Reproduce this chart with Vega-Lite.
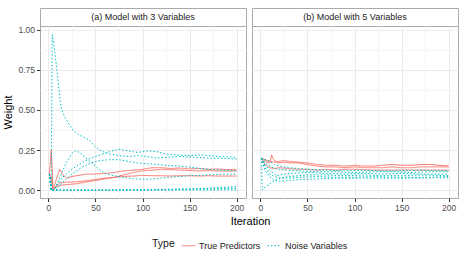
{
  "$schema": "https://vega.github.io/schema/vega-lite/v6.json",
  "background": "white",
  "padding": {"left": 2, "top": 7, "right": 5, "bottom": 5},
  "bounds": "flush",
  "columns": 2,
  "spacing": {"row": 0, "column": 6},
  "config": {
    "font": "Liberation Sans",
    "view": {"stroke": "#ABABAB", "strokeWidth": 1},
    "axis": {
      "domain": false, "tickColor": "#333333", "tickSize": 3.5, "tickWidth": 1,
      "labelColor": "#4D4D4D", "labelFontSize": 8.5, "labelFont": "Liberation Sans",
      "titleFont": "Liberation Sans", "titleFontSize": 11, "titleFontWeight": "normal", "titleColor": "#000000",
      "labelPadding": 2
    },
    "legend": {
      "orient": "none", "legendX": 112, "legendY": 230, "direction": "horizontal", "titleOrient": "left",
      "symbolType": "stroke", "symbolSize": 196, "symbolStrokeWidth": 1,
      "labelFontSize": 9, "titleFontSize": 10.5, "titleFontWeight": "normal",
      "labelFont": "Liberation Sans", "titleFont": "Liberation Sans",
      "labelColor": "#1A1A1A", "titleColor": "#1A1A1A", "columnPadding": 4, "labelOffset": 3, "titlePadding": 6
    }
  },
  "datasets": {
    "pa": [
      {"s":"r1","t":"True Predictors","x":1,"w":0.1},{"s":"r1","t":"True Predictors","x":3,"w":0.25},{"s":"r1","t":"True Predictors","x":5,"w":0.0},{"s":"r1","t":"True Predictors","x":8,"w":0.06},{"s":"r1","t":"True Predictors","x":12,"w":0.13},{"s":"r1","t":"True Predictors","x":16,"w":0.09},{"s":"r1","t":"True Predictors","x":20,"w":0.075},{"s":"r1","t":"True Predictors","x":25,"w":0.085},{"s":"r1","t":"True Predictors","x":30,"w":0.09},{"s":"r1","t":"True Predictors","x":40,"w":0.1},{"s":"r1","t":"True Predictors","x":50,"w":0.1},{"s":"r1","t":"True Predictors","x":60,"w":0.105},{"s":"r1","t":"True Predictors","x":70,"w":0.11},{"s":"r1","t":"True Predictors","x":80,"w":0.12},{"s":"r1","t":"True Predictors","x":90,"w":0.125},{"s":"r1","t":"True Predictors","x":100,"w":0.13},{"s":"r1","t":"True Predictors","x":110,"w":0.14},{"s":"r1","t":"True Predictors","x":120,"w":0.14},{"s":"r1","t":"True Predictors","x":130,"w":0.135},{"s":"r1","t":"True Predictors","x":140,"w":0.138},{"s":"r1","t":"True Predictors","x":150,"w":0.132},{"s":"r1","t":"True Predictors","x":160,"w":0.135},{"s":"r1","t":"True Predictors","x":170,"w":0.13},{"s":"r1","t":"True Predictors","x":180,"w":0.132},{"s":"r1","t":"True Predictors","x":190,"w":0.128},{"s":"r1","t":"True Predictors","x":200,"w":0.13},
      {"s":"r2","t":"True Predictors","x":1,"w":0.1},{"s":"r2","t":"True Predictors","x":3,"w":0.06},{"s":"r2","t":"True Predictors","x":5,"w":0.0},{"s":"r2","t":"True Predictors","x":8,"w":0.02},{"s":"r2","t":"True Predictors","x":12,"w":0.03},{"s":"r2","t":"True Predictors","x":20,"w":0.035},{"s":"r2","t":"True Predictors","x":30,"w":0.04},{"s":"r2","t":"True Predictors","x":40,"w":0.05},{"s":"r2","t":"True Predictors","x":50,"w":0.06},{"s":"r2","t":"True Predictors","x":60,"w":0.07},{"s":"r2","t":"True Predictors","x":70,"w":0.08},{"s":"r2","t":"True Predictors","x":80,"w":0.095},{"s":"r2","t":"True Predictors","x":90,"w":0.11},{"s":"r2","t":"True Predictors","x":100,"w":0.12},{"s":"r2","t":"True Predictors","x":110,"w":0.125},{"s":"r2","t":"True Predictors","x":120,"w":0.13},{"s":"r2","t":"True Predictors","x":130,"w":0.128},{"s":"r2","t":"True Predictors","x":140,"w":0.125},{"s":"r2","t":"True Predictors","x":150,"w":0.122},{"s":"r2","t":"True Predictors","x":160,"w":0.12},{"s":"r2","t":"True Predictors","x":170,"w":0.122},{"s":"r2","t":"True Predictors","x":180,"w":0.12},{"s":"r2","t":"True Predictors","x":190,"w":0.118},{"s":"r2","t":"True Predictors","x":200,"w":0.12},
      {"s":"r3","t":"True Predictors","x":1,"w":0.1},{"s":"r3","t":"True Predictors","x":3,"w":0.08},{"s":"r3","t":"True Predictors","x":5,"w":0.0},{"s":"r3","t":"True Predictors","x":8,"w":0.025},{"s":"r3","t":"True Predictors","x":12,"w":0.045},{"s":"r3","t":"True Predictors","x":20,"w":0.05},{"s":"r3","t":"True Predictors","x":30,"w":0.052},{"s":"r3","t":"True Predictors","x":40,"w":0.058},{"s":"r3","t":"True Predictors","x":50,"w":0.066},{"s":"r3","t":"True Predictors","x":60,"w":0.075},{"s":"r3","t":"True Predictors","x":70,"w":0.08},{"s":"r3","t":"True Predictors","x":80,"w":0.085},{"s":"r3","t":"True Predictors","x":90,"w":0.088},{"s":"r3","t":"True Predictors","x":100,"w":0.092},{"s":"r3","t":"True Predictors","x":110,"w":0.09},{"s":"r3","t":"True Predictors","x":120,"w":0.09},{"s":"r3","t":"True Predictors","x":130,"w":0.088},{"s":"r3","t":"True Predictors","x":140,"w":0.09},{"s":"r3","t":"True Predictors","x":150,"w":0.09},{"s":"r3","t":"True Predictors","x":160,"w":0.088},{"s":"r3","t":"True Predictors","x":170,"w":0.09},{"s":"r3","t":"True Predictors","x":180,"w":0.088},{"s":"r3","t":"True Predictors","x":190,"w":0.088},{"s":"r3","t":"True Predictors","x":200,"w":0.088},
      {"s":"n1","t":"Noise Variables","x":1,"w":0.1},{"s":"n1","t":"Noise Variables","x":3,"w":0.0},{"s":"n1","t":"Noise Variables","x":4,"w":0.97},{"s":"n1","t":"Noise Variables","x":6,"w":0.9},{"s":"n1","t":"Noise Variables","x":8,"w":0.8},{"s":"n1","t":"Noise Variables","x":10,"w":0.7},{"s":"n1","t":"Noise Variables","x":12,"w":0.58},{"s":"n1","t":"Noise Variables","x":14,"w":0.5},{"s":"n1","t":"Noise Variables","x":18,"w":0.45},{"s":"n1","t":"Noise Variables","x":22,"w":0.41},{"s":"n1","t":"Noise Variables","x":27,"w":0.37},{"s":"n1","t":"Noise Variables","x":32,"w":0.345},{"s":"n1","t":"Noise Variables","x":38,"w":0.33},{"s":"n1","t":"Noise Variables","x":44,"w":0.31},{"s":"n1","t":"Noise Variables","x":48,"w":0.28},{"s":"n1","t":"Noise Variables","x":52,"w":0.26},{"s":"n1","t":"Noise Variables","x":58,"w":0.24},{"s":"n1","t":"Noise Variables","x":65,"w":0.225},{"s":"n1","t":"Noise Variables","x":75,"w":0.215},{"s":"n1","t":"Noise Variables","x":85,"w":0.21},{"s":"n1","t":"Noise Variables","x":95,"w":0.215},{"s":"n1","t":"Noise Variables","x":105,"w":0.21},{"s":"n1","t":"Noise Variables","x":115,"w":0.2},{"s":"n1","t":"Noise Variables","x":125,"w":0.205},{"s":"n1","t":"Noise Variables","x":140,"w":0.21},{"s":"n1","t":"Noise Variables","x":155,"w":0.205},{"s":"n1","t":"Noise Variables","x":170,"w":0.2},{"s":"n1","t":"Noise Variables","x":185,"w":0.198},{"s":"n1","t":"Noise Variables","x":200,"w":0.195},
      {"s":"n2","t":"Noise Variables","x":1,"w":0.1},{"s":"n2","t":"Noise Variables","x":3,"w":0.0},{"s":"n2","t":"Noise Variables","x":6,"w":0.0},{"s":"n2","t":"Noise Variables","x":10,"w":0.05},{"s":"n2","t":"Noise Variables","x":15,"w":0.12},{"s":"n2","t":"Noise Variables","x":20,"w":0.18},{"s":"n2","t":"Noise Variables","x":25,"w":0.23},{"s":"n2","t":"Noise Variables","x":29,"w":0.245},{"s":"n2","t":"Noise Variables","x":33,"w":0.235},{"s":"n2","t":"Noise Variables","x":38,"w":0.21},{"s":"n2","t":"Noise Variables","x":44,"w":0.18},{"s":"n2","t":"Noise Variables","x":50,"w":0.15},{"s":"n2","t":"Noise Variables","x":56,"w":0.12},{"s":"n2","t":"Noise Variables","x":62,"w":0.1},{"s":"n2","t":"Noise Variables","x":70,"w":0.09},{"s":"n2","t":"Noise Variables","x":80,"w":0.08},{"s":"n2","t":"Noise Variables","x":90,"w":0.07},{"s":"n2","t":"Noise Variables","x":100,"w":0.068},{"s":"n2","t":"Noise Variables","x":110,"w":0.07},{"s":"n2","t":"Noise Variables","x":120,"w":0.075},{"s":"n2","t":"Noise Variables","x":130,"w":0.08},{"s":"n2","t":"Noise Variables","x":150,"w":0.09},{"s":"n2","t":"Noise Variables","x":170,"w":0.095},{"s":"n2","t":"Noise Variables","x":185,"w":0.1},{"s":"n2","t":"Noise Variables","x":200,"w":0.1},
      {"s":"n3","t":"Noise Variables","x":1,"w":0.1},{"s":"n3","t":"Noise Variables","x":3,"w":0.0},{"s":"n3","t":"Noise Variables","x":6,"w":0.0},{"s":"n3","t":"Noise Variables","x":15,"w":0.08},{"s":"n3","t":"Noise Variables","x":25,"w":0.13},{"s":"n3","t":"Noise Variables","x":35,"w":0.17},{"s":"n3","t":"Noise Variables","x":45,"w":0.2},{"s":"n3","t":"Noise Variables","x":55,"w":0.22},{"s":"n3","t":"Noise Variables","x":65,"w":0.24},{"s":"n3","t":"Noise Variables","x":75,"w":0.255},{"s":"n3","t":"Noise Variables","x":85,"w":0.245},{"s":"n3","t":"Noise Variables","x":95,"w":0.235},{"s":"n3","t":"Noise Variables","x":105,"w":0.245},{"s":"n3","t":"Noise Variables","x":115,"w":0.24},{"s":"n3","t":"Noise Variables","x":125,"w":0.225},{"s":"n3","t":"Noise Variables","x":135,"w":0.22},{"s":"n3","t":"Noise Variables","x":150,"w":0.215},{"s":"n3","t":"Noise Variables","x":165,"w":0.22},{"s":"n3","t":"Noise Variables","x":180,"w":0.21},{"s":"n3","t":"Noise Variables","x":200,"w":0.205},
      {"s":"n4","t":"Noise Variables","x":1,"w":0.1},{"s":"n4","t":"Noise Variables","x":3,"w":0.0},{"s":"n4","t":"Noise Variables","x":8,"w":0.0},{"s":"n4","t":"Noise Variables","x":15,"w":0.05},{"s":"n4","t":"Noise Variables","x":25,"w":0.1},{"s":"n4","t":"Noise Variables","x":35,"w":0.14},{"s":"n4","t":"Noise Variables","x":45,"w":0.17},{"s":"n4","t":"Noise Variables","x":55,"w":0.185},{"s":"n4","t":"Noise Variables","x":65,"w":0.19},{"s":"n4","t":"Noise Variables","x":75,"w":0.19},{"s":"n4","t":"Noise Variables","x":85,"w":0.18},{"s":"n4","t":"Noise Variables","x":95,"w":0.17},{"s":"n4","t":"Noise Variables","x":105,"w":0.165},{"s":"n4","t":"Noise Variables","x":115,"w":0.16},{"s":"n4","t":"Noise Variables","x":125,"w":0.155},{"s":"n4","t":"Noise Variables","x":140,"w":0.15},{"s":"n4","t":"Noise Variables","x":155,"w":0.14},{"s":"n4","t":"Noise Variables","x":170,"w":0.13},{"s":"n4","t":"Noise Variables","x":185,"w":0.125},{"s":"n4","t":"Noise Variables","x":200,"w":0.12},
      {"s":"n5","t":"Noise Variables","x":1,"w":0.1},{"s":"n5","t":"Noise Variables","x":3,"w":0.0},{"s":"n5","t":"Noise Variables","x":50,"w":0.0},{"s":"n5","t":"Noise Variables","x":100,"w":0.003},{"s":"n5","t":"Noise Variables","x":130,"w":0.006},{"s":"n5","t":"Noise Variables","x":160,"w":0.01},{"s":"n5","t":"Noise Variables","x":180,"w":0.015},{"s":"n5","t":"Noise Variables","x":200,"w":0.022},
      {"s":"n6","t":"Noise Variables","x":1,"w":0.1},{"s":"n6","t":"Noise Variables","x":3,"w":0.0},{"s":"n6","t":"Noise Variables","x":100,"w":0.0},{"s":"n6","t":"Noise Variables","x":150,"w":0.005},{"s":"n6","t":"Noise Variables","x":200,"w":0.012},
      {"s":"n7","t":"Noise Variables","x":1,"w":0.1},{"s":"n7","t":"Noise Variables","x":3,"w":0.0},{"s":"n7","t":"Noise Variables","x":200,"w":0.002}
    ],
    "pb": [
      {"s":"r1","t":"True Predictors","x":1,"w":0.2},{"s":"r1","t":"True Predictors","x":5,"w":0.19},{"s":"r1","t":"True Predictors","x":10,"w":0.18},{"s":"r1","t":"True Predictors","x":15,"w":0.175},{"s":"r1","t":"True Predictors","x":20,"w":0.18},{"s":"r1","t":"True Predictors","x":25,"w":0.185},{"s":"r1","t":"True Predictors","x":30,"w":0.18},{"s":"r1","t":"True Predictors","x":40,"w":0.175},{"s":"r1","t":"True Predictors","x":50,"w":0.17},{"s":"r1","t":"True Predictors","x":60,"w":0.16},{"s":"r1","t":"True Predictors","x":70,"w":0.155},{"s":"r1","t":"True Predictors","x":80,"w":0.155},{"s":"r1","t":"True Predictors","x":90,"w":0.15},{"s":"r1","t":"True Predictors","x":100,"w":0.155},{"s":"r1","t":"True Predictors","x":110,"w":0.15},{"s":"r1","t":"True Predictors","x":120,"w":0.15},{"s":"r1","t":"True Predictors","x":130,"w":0.155},{"s":"r1","t":"True Predictors","x":140,"w":0.16},{"s":"r1","t":"True Predictors","x":150,"w":0.155},{"s":"r1","t":"True Predictors","x":160,"w":0.155},{"s":"r1","t":"True Predictors","x":170,"w":0.16},{"s":"r1","t":"True Predictors","x":180,"w":0.16},{"s":"r1","t":"True Predictors","x":190,"w":0.155},{"s":"r1","t":"True Predictors","x":200,"w":0.15},
      {"s":"r2","t":"True Predictors","x":1,"w":0.2},{"s":"r2","t":"True Predictors","x":5,"w":0.18},{"s":"r2","t":"True Predictors","x":10,"w":0.17},{"s":"r2","t":"True Predictors","x":12,"w":0.22},{"s":"r2","t":"True Predictors","x":14,"w":0.19},{"s":"r2","t":"True Predictors","x":18,"w":0.17},{"s":"r2","t":"True Predictors","x":25,"w":0.175},{"s":"r2","t":"True Predictors","x":30,"w":0.17},{"s":"r2","t":"True Predictors","x":40,"w":0.17},{"s":"r2","t":"True Predictors","x":50,"w":0.16},{"s":"r2","t":"True Predictors","x":60,"w":0.15},{"s":"r2","t":"True Predictors","x":70,"w":0.145},{"s":"r2","t":"True Predictors","x":80,"w":0.145},{"s":"r2","t":"True Predictors","x":90,"w":0.14},{"s":"r2","t":"True Predictors","x":100,"w":0.145},{"s":"r2","t":"True Predictors","x":110,"w":0.14},{"s":"r2","t":"True Predictors","x":120,"w":0.14},{"s":"r2","t":"True Predictors","x":130,"w":0.14},{"s":"r2","t":"True Predictors","x":140,"w":0.145},{"s":"r2","t":"True Predictors","x":150,"w":0.14},{"s":"r2","t":"True Predictors","x":160,"w":0.14},{"s":"r2","t":"True Predictors","x":170,"w":0.145},{"s":"r2","t":"True Predictors","x":180,"w":0.145},{"s":"r2","t":"True Predictors","x":190,"w":0.145},{"s":"r2","t":"True Predictors","x":200,"w":0.145},
      {"s":"r3","t":"True Predictors","x":1,"w":0.2},{"s":"r3","t":"True Predictors","x":5,"w":0.16},{"s":"r3","t":"True Predictors","x":10,"w":0.14},{"s":"r3","t":"True Predictors","x":15,"w":0.135},{"s":"r3","t":"True Predictors","x":20,"w":0.14},{"s":"r3","t":"True Predictors","x":30,"w":0.135},{"s":"r3","t":"True Predictors","x":40,"w":0.13},{"s":"r3","t":"True Predictors","x":50,"w":0.13},{"s":"r3","t":"True Predictors","x":60,"w":0.125},{"s":"r3","t":"True Predictors","x":70,"w":0.13},{"s":"r3","t":"True Predictors","x":80,"w":0.125},{"s":"r3","t":"True Predictors","x":90,"w":0.13},{"s":"r3","t":"True Predictors","x":100,"w":0.13},{"s":"r3","t":"True Predictors","x":120,"w":0.125},{"s":"r3","t":"True Predictors","x":140,"w":0.125},{"s":"r3","t":"True Predictors","x":160,"w":0.125},{"s":"r3","t":"True Predictors","x":180,"w":0.125},{"s":"r3","t":"True Predictors","x":200,"w":0.125},
      {"s":"n1","t":"Noise Variables","x":1,"w":0.2},{"s":"n1","t":"Noise Variables","x":5,"w":0.19},{"s":"n1","t":"Noise Variables","x":10,"w":0.18},{"s":"n1","t":"Noise Variables","x":15,"w":0.16},{"s":"n1","t":"Noise Variables","x":20,"w":0.15},{"s":"n1","t":"Noise Variables","x":30,"w":0.14},{"s":"n1","t":"Noise Variables","x":40,"w":0.135},{"s":"n1","t":"Noise Variables","x":50,"w":0.13},{"s":"n1","t":"Noise Variables","x":70,"w":0.125},{"s":"n1","t":"Noise Variables","x":90,"w":0.12},{"s":"n1","t":"Noise Variables","x":110,"w":0.125},{"s":"n1","t":"Noise Variables","x":130,"w":0.12},{"s":"n1","t":"Noise Variables","x":150,"w":0.12},{"s":"n1","t":"Noise Variables","x":170,"w":0.125},{"s":"n1","t":"Noise Variables","x":200,"w":0.12},
      {"s":"n2","t":"Noise Variables","x":1,"w":0.2},{"s":"n2","t":"Noise Variables","x":5,"w":0.17},{"s":"n2","t":"Noise Variables","x":10,"w":0.15},{"s":"n2","t":"Noise Variables","x":15,"w":0.135},{"s":"n2","t":"Noise Variables","x":20,"w":0.13},{"s":"n2","t":"Noise Variables","x":30,"w":0.125},{"s":"n2","t":"Noise Variables","x":40,"w":0.12},{"s":"n2","t":"Noise Variables","x":60,"w":0.115},{"s":"n2","t":"Noise Variables","x":80,"w":0.115},{"s":"n2","t":"Noise Variables","x":100,"w":0.11},{"s":"n2","t":"Noise Variables","x":120,"w":0.115},{"s":"n2","t":"Noise Variables","x":140,"w":0.115},{"s":"n2","t":"Noise Variables","x":160,"w":0.11},{"s":"n2","t":"Noise Variables","x":180,"w":0.115},{"s":"n2","t":"Noise Variables","x":200,"w":0.115},
      {"s":"n3","t":"Noise Variables","x":1,"w":0.2},{"s":"n3","t":"Noise Variables","x":5,"w":0.155},{"s":"n3","t":"Noise Variables","x":10,"w":0.125},{"s":"n3","t":"Noise Variables","x":17,"w":0.09},{"s":"n3","t":"Noise Variables","x":25,"w":0.1},{"s":"n3","t":"Noise Variables","x":35,"w":0.105},{"s":"n3","t":"Noise Variables","x":50,"w":0.11},{"s":"n3","t":"Noise Variables","x":70,"w":0.105},{"s":"n3","t":"Noise Variables","x":90,"w":0.1},{"s":"n3","t":"Noise Variables","x":110,"w":0.105},{"s":"n3","t":"Noise Variables","x":130,"w":0.1},{"s":"n3","t":"Noise Variables","x":150,"w":0.105},{"s":"n3","t":"Noise Variables","x":170,"w":0.1},{"s":"n3","t":"Noise Variables","x":200,"w":0.1},
      {"s":"n4","t":"Noise Variables","x":1,"w":0.2},{"s":"n4","t":"Noise Variables","x":2,"w":0.0},{"s":"n4","t":"Noise Variables","x":5,"w":0.02},{"s":"n4","t":"Noise Variables","x":10,"w":0.04},{"s":"n4","t":"Noise Variables","x":15,"w":0.06},{"s":"n4","t":"Noise Variables","x":23,"w":0.077},{"s":"n4","t":"Noise Variables","x":30,"w":0.085},{"s":"n4","t":"Noise Variables","x":40,"w":0.09},{"s":"n4","t":"Noise Variables","x":50,"w":0.095},{"s":"n4","t":"Noise Variables","x":70,"w":0.095},{"s":"n4","t":"Noise Variables","x":90,"w":0.09},{"s":"n4","t":"Noise Variables","x":110,"w":0.095},{"s":"n4","t":"Noise Variables","x":130,"w":0.09},{"s":"n4","t":"Noise Variables","x":150,"w":0.09},{"s":"n4","t":"Noise Variables","x":170,"w":0.095},{"s":"n4","t":"Noise Variables","x":200,"w":0.09},
      {"s":"n5","t":"Noise Variables","x":1,"w":0.2},{"s":"n5","t":"Noise Variables","x":5,"w":0.14},{"s":"n5","t":"Noise Variables","x":10,"w":0.1},{"s":"n5","t":"Noise Variables","x":15,"w":0.085},{"s":"n5","t":"Noise Variables","x":20,"w":0.075},{"s":"n5","t":"Noise Variables","x":30,"w":0.075},{"s":"n5","t":"Noise Variables","x":40,"w":0.08},{"s":"n5","t":"Noise Variables","x":60,"w":0.085},{"s":"n5","t":"Noise Variables","x":80,"w":0.08},{"s":"n5","t":"Noise Variables","x":100,"w":0.08},{"s":"n5","t":"Noise Variables","x":120,"w":0.085},{"s":"n5","t":"Noise Variables","x":140,"w":0.08},{"s":"n5","t":"Noise Variables","x":160,"w":0.08},{"s":"n5","t":"Noise Variables","x":180,"w":0.08},{"s":"n5","t":"Noise Variables","x":200,"w":0.085},
      {"s":"n6","t":"Noise Variables","x":1,"w":0.2},{"s":"n6","t":"Noise Variables","x":5,"w":0.12},{"s":"n6","t":"Noise Variables","x":10,"w":0.08},{"s":"n6","t":"Noise Variables","x":15,"w":0.06},{"s":"n6","t":"Noise Variables","x":20,"w":0.055},{"s":"n6","t":"Noise Variables","x":30,"w":0.06},{"s":"n6","t":"Noise Variables","x":40,"w":0.065},{"s":"n6","t":"Noise Variables","x":60,"w":0.07},{"s":"n6","t":"Noise Variables","x":80,"w":0.075},{"s":"n6","t":"Noise Variables","x":100,"w":0.075},{"s":"n6","t":"Noise Variables","x":120,"w":0.075},{"s":"n6","t":"Noise Variables","x":140,"w":0.075},{"s":"n6","t":"Noise Variables","x":160,"w":0.075},{"s":"n6","t":"Noise Variables","x":180,"w":0.077},{"s":"n6","t":"Noise Variables","x":200,"w":0.077}
    ]
  },
  "concat": [
    {
      "width": 206, "height": 18,
      "data": {"values": [{"label": "(a) Model with 3 Variables"}]},
      "mark": {"type": "text", "fontSize": 9, "font": "Liberation Sans", "color": "#1A1A1A"},
      "encoding": {"text": {"field": "label", "type": "nominal"}},
      "view": {"stroke": "#ABABAB", "fill": "white"}
    },
    {
      "width": 206, "height": 18,
      "data": {"values": [{"label": "(b) Model with 5 Variables"}]},
      "mark": {"type": "text", "fontSize": 9, "font": "Liberation Sans", "color": "#1A1A1A"},
      "encoding": {"text": {"field": "label", "type": "nominal"}},
      "view": {"stroke": "#ABABAB", "fill": "white"}
    },
    {
      "width": 206, "height": 172,
      "data": {"name": "pa"},
      "mark": {"type": "line", "strokeWidth": 1},
      "encoding": {
        "x": {"field": "x", "type": "quantitative", "scale": {"domain": [-8.95, 209.95], "nice": false, "zero": false},
          "axis": {"title": "Iteration", "titleX": 210, "titlePadding": 3,
            "values": [0, 25, 50, 75, 100, 125, 150, 175, 200],
            "labelExpr": "datum.value % 50 === 0 ? datum.label : ''",
            "tickOpacity": {"condition": {"test": "datum.value % 50 === 0", "value": 1}, "value": 0},
            "gridColor": {"condition": {"test": "datum.value % 50 === 0", "value": "#EBEBEB"}, "value": "#F5F5F5"}}},
        "y": {"field": "w", "type": "quantitative", "scale": {"domain": [-0.049, 1.024], "nice": false, "zero": false},
          "axis": {"title": "Weight", "titlePadding": 4, "format": ".2f",
            "values": [0, 0.125, 0.25, 0.375, 0.5, 0.625, 0.75, 0.875, 1],
            "labelExpr": "(datum.value * 4) % 1 === 0 ? datum.label : ''",
            "tickOpacity": {"condition": {"test": "(datum.value * 4) % 1 === 0", "value": 1}, "value": 0},
            "gridColor": {"condition": {"test": "(datum.value * 4) % 1 === 0", "value": "#EBEBEB"}, "value": "#F5F5F5"}}},
        "color": {"field": "t", "type": "nominal", "title": "Type",
          "scale": {"domain": ["True Predictors", "Noise Variables"], "range": ["#F8766D", "#00BFC4"]}},
        "strokeDash": {"field": "t", "type": "nominal", "title": "Type",
          "scale": {"domain": ["True Predictors", "Noise Variables"], "range": [[1, 0], [1.5, 2]]}},
        "detail": {"field": "s", "type": "nominal"}
      }
    },
    {
      "width": 206, "height": 172,
      "data": {"name": "pb"},
      "mark": {"type": "line", "strokeWidth": 1},
      "encoding": {
        "x": {"field": "x", "type": "quantitative", "scale": {"domain": [-8.95, 209.95], "nice": false, "zero": false},
          "axis": {"title": null,
            "values": [0, 25, 50, 75, 100, 125, 150, 175, 200],
            "labelExpr": "datum.value % 50 === 0 ? datum.label : ''",
            "tickOpacity": {"condition": {"test": "datum.value % 50 === 0", "value": 1}, "value": 0},
            "gridColor": {"condition": {"test": "datum.value % 50 === 0", "value": "#EBEBEB"}, "value": "#F5F5F5"}}},
        "y": {"field": "w", "type": "quantitative", "scale": {"domain": [-0.049, 1.024], "nice": false, "zero": false},
          "axis": {"title": null, "labels": false, "ticks": false,
            "values": [0, 0.125, 0.25, 0.375, 0.5, 0.625, 0.75, 0.875, 1],
            "gridColor": {"condition": {"test": "(datum.value * 4) % 1 === 0", "value": "#EBEBEB"}, "value": "#F5F5F5"}}},
        "color": {"field": "t", "type": "nominal", "title": "Type",
          "scale": {"domain": ["True Predictors", "Noise Variables"], "range": ["#F8766D", "#00BFC4"]}},
        "strokeDash": {"field": "t", "type": "nominal", "title": "Type",
          "scale": {"domain": ["True Predictors", "Noise Variables"], "range": [[1, 0], [1.5, 2]]}},
        "detail": {"field": "s", "type": "nominal"}
      }
    }
  ]
}
